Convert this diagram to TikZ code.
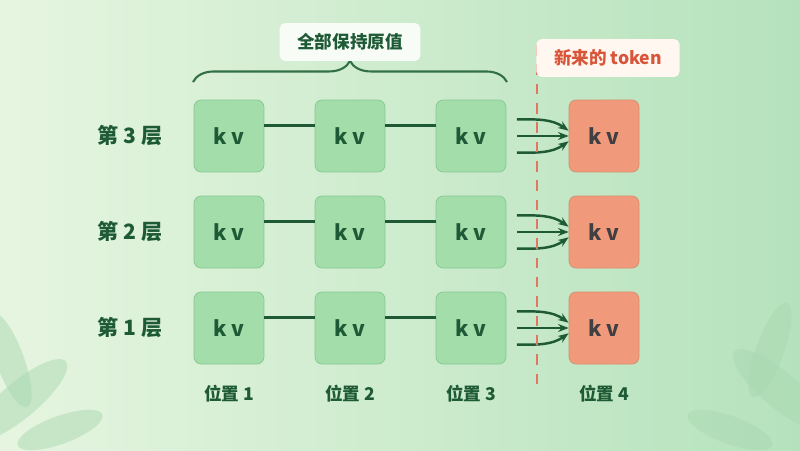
\documentclass[tikz,border=0pt]{standalone}
\usepackage{fontspec}
\setmainfont{Noto Sans CJK SC}
\usetikzlibrary{arrows.meta,decorations.pathreplacing}
\definecolor{bgA}{HTML}{E6F5E0}
\definecolor{bgB}{HTML}{B5E2BC}
\definecolor{kvgreen}{HTML}{A3DDAA}
\definecolor{kvline}{HTML}{86C98F}
\definecolor{kvred}{HTML}{F19A7B}
\definecolor{dark}{HTML}{1E5A35}
\definecolor{tokred}{HTML}{D9553A}
\tikzset{
  kv/.style={draw=kvline,fill=kvgreen,rounded corners=4pt,minimum width=1.4cm,minimum height=1.44cm,font=\bfseries\large,text=dark},
  kvnew/.style={kv,fill=kvred,draw=kvred!90!black,text=black!75},
  lbl/.style={font=\bfseries,text=dark},
  link/.style={dark,line width=1.4pt},
  feed/.style={dark,line width=1.4pt,-{Stealth[length=6pt]}},
  leaf/.style={fill=kvline!70,draw=none,opacity=.5}
}
\begin{document}
\begin{tikzpicture}[x=0.02cm,y=-0.02cm]
\shade[left color=bgA,right color=bgB] (0,0) rectangle (800,450);
\useasboundingbox (0,0) rectangle (800,450);
% leaves in the corners
\fill[leaf,rotate around={40:(20,400)}] (20,400) ellipse (60 and 18);
\fill[leaf,rotate around={-70:(10,360)}] (10,360) ellipse (50 and 14);
\fill[leaf,rotate around={20:(60,430)}] (60,430) ellipse (45 and 14);
\fill[leaf,rotate around={-40:(780,390)}] (780,390) ellipse (60 and 18);
\fill[leaf,rotate around={70:(770,350)}] (770,350) ellipse (50 and 14);
\fill[leaf,rotate around={-20:(730,430)}] (730,430) ellipse (45 and 14);
% cache rows
\foreach \r/\y in {3/136,2/232,1/328}{
  \node[lbl,font=\bfseries\large] (l\r) at (130,\y) {第 \r\ 层};
  \node[kv] (k\r a) at (229,\y) {k v};
  \node[kv] (k\r b) at (350,\y) {k v};
  \node[kv] (k\r c) at (471,\y) {k v};
  \node[kvnew] (k\r d) at (604,\y) {k v};
  \draw[link] ([yshift=6pt]k\r a.east) -- ([yshift=6pt]k\r b.west);
  \draw[link] ([yshift=6pt]k\r b.east) -- ([yshift=6pt]k\r c.west);
  \draw[feed] ([xshift=6pt,yshift=9.5pt]k\r c.east) to[out=0,in=145] ([yshift=3pt]k\r d.west);
  \draw[feed] ([xshift=6pt]k\r c.east) -- (k\r d.west);
  \draw[feed] ([xshift=6pt,yshift=-9.5pt]k\r c.east) to[out=0,in=-145] ([yshift=-3pt]k\r d.west);
}
% positions
\node[lbl] (p1) at (229,394) {位置 1};
\node[lbl] (p2) at (350,394) {位置 2};
\node[lbl] (p3) at (471,394) {位置 3};
\node[lbl] (p4) at (604,394) {位置 4};
% brace
\coordinate (bl) at (193,82);
\coordinate (br) at (507,82);
\draw[dark!80!kvline,line width=1.2pt,decorate,decoration={brace,amplitude=12pt}] (bl) -- (br);
\node[lbl,fill=white!70!bgA,rounded corners=3pt,inner xsep=10pt,inner ysep=6pt] (keep) at (350,42) {全部保持原值};
% new token
\coordinate (dt) at (537,45);
\coordinate (db) at (537,385);
\draw[tokred!80,dashed,line width=1.2pt,dash pattern=on 6pt off 5pt] (dt) -- (db);
\node[font=\bfseries,text=tokred,fill=white!60!orange!15,rounded corners=3pt,inner xsep=10pt,inner ysep=6pt] (new) at (608,58) {新来的 token};
\end{tikzpicture}
\end{document}
